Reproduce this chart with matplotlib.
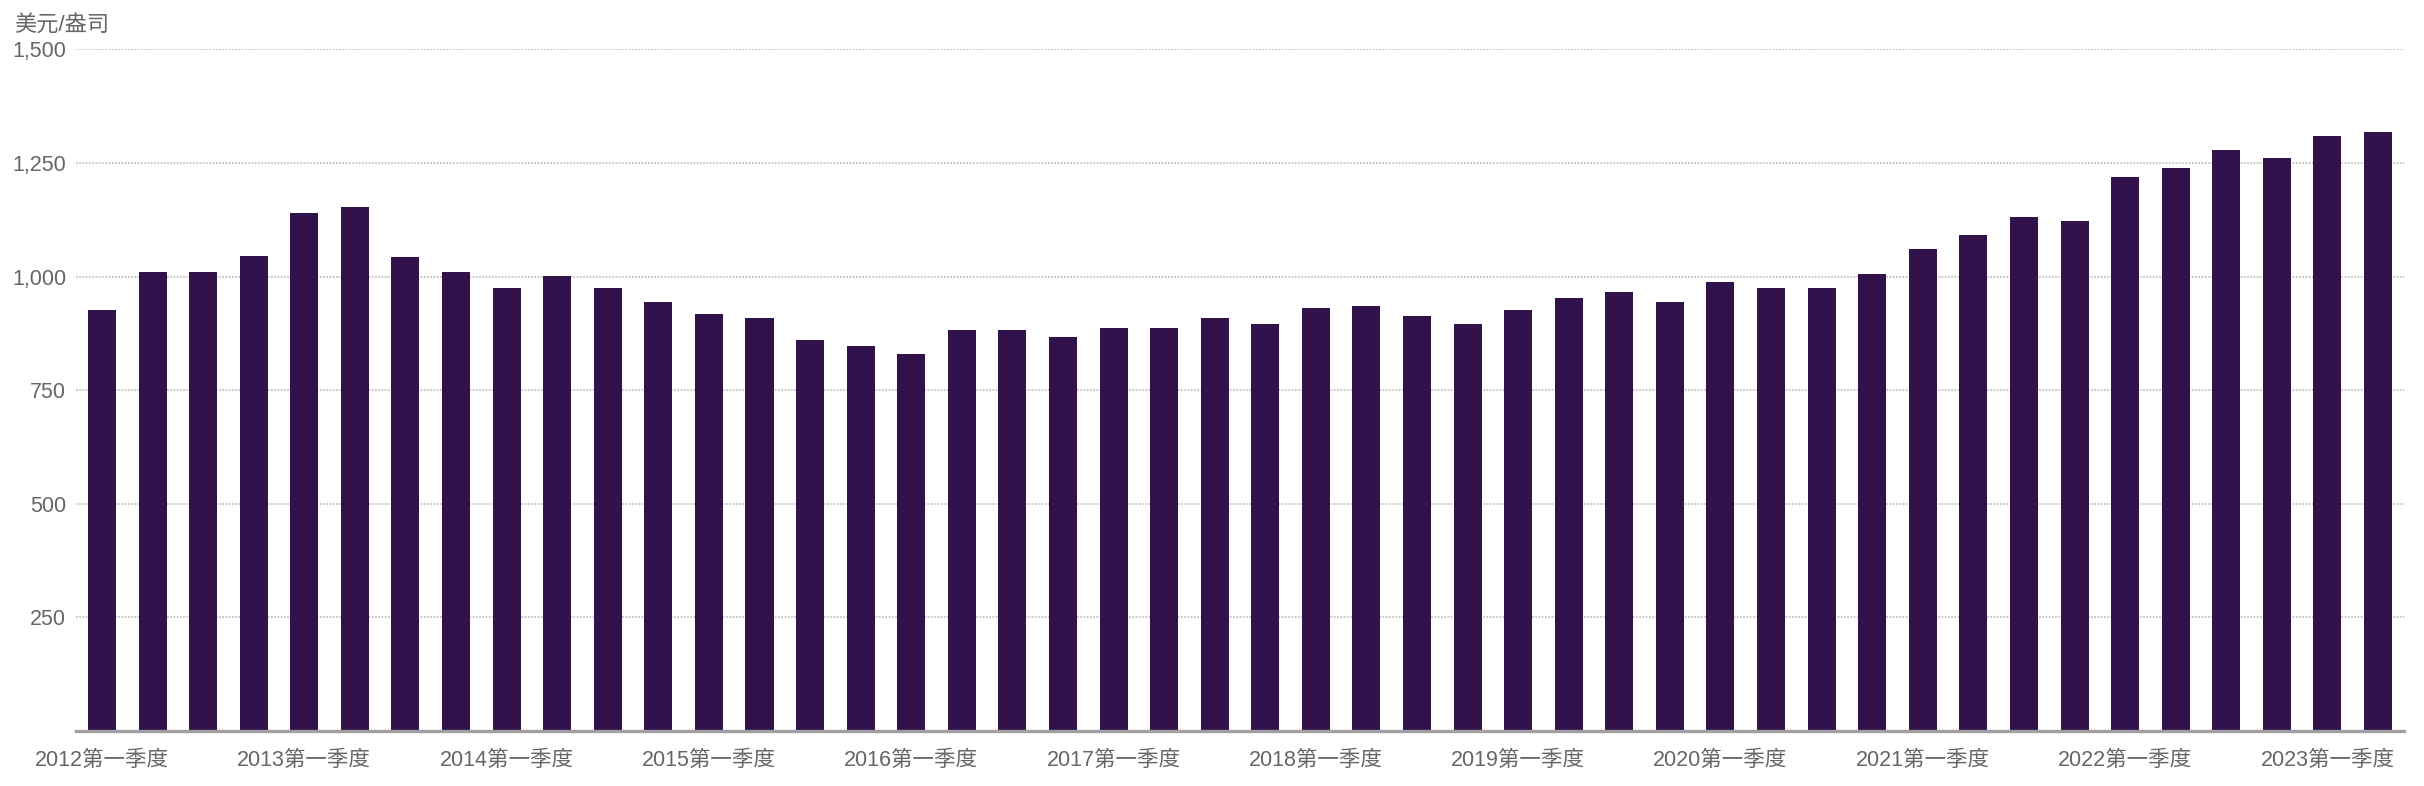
import matplotlib
matplotlib.use('Agg')
import matplotlib.pyplot as plt
import numpy as np

plt.rcParams['font.family'] = ['Liberation Sans', 'Noto Sans CJK SC', 'DejaVu Sans']

# quarterly gold price, 2012 Q1 - 2023 Q2 (USD/oz)
prices = [926, 1010, 1010, 1046, 1140, 1152, 1042, 1010,
          975, 1001, 975, 944, 917, 909, 861, 848,
          830, 883, 883, 866, 887, 887, 909, 896,
          931, 935, 914, 896, 927, 953, 966, 944,
          988, 975, 975, 1006, 1060, 1091, 1131, 1122,
          1220, 1238, 1278, 1260, 1309, 1318]
years = list(range(2012, 2024))
tick_labels = ['{0}第一季度'.format(y) for y in years]
y_ticks = [250, 500, 750, 1000, 1250, 1500]

bar_color = '#32124a'
text_color = '#666666'

fig = plt.figure(figsize=(24.24, 7.86), dpi=100)
ax = fig.add_axes([0.03135, 0.070, 0.9604, 0.8673])

x = np.arange(len(prices))
ax.bar(x, prices, width=0.554, color=bar_color, zorder=3)

ax.set_xlim(-0.514, len(prices) - 1 + 0.514)
ax.set_ylim(0, 1500)
ax.set_yticks(y_ticks)
ax.set_yticklabels(['{:,}'.format(v) for v in y_ticks])
ax.set_xticks(x[::4])
ax.set_xticklabels(tick_labels)

ax.tick_params(axis='both', length=0, labelsize=15.5, colors=text_color)
ax.tick_params(axis='y', pad=7)
ax.tick_params(axis='x', pad=14)

# light dotted horizontal grid
ax.grid(axis='y', color='#c4c4c4', linestyle=(0, (1, 0.8)), linewidth=1.3, zorder=0)
for s in ['top', 'right', 'left']:
    ax.spines[s].set_visible(False)
ax.spines['bottom'].set_color('#a0a0a0')
ax.spines['bottom'].set_linewidth(2.4)
ax.spines['bottom'].set_zorder(4)

fig.text(14 / 2424, 1 - 32 / 786, '美元/盎司', fontsize=16, color=text_color,
         ha='left', va='baseline')

fig.savefig('out.png', dpi=100)
plt.close()
